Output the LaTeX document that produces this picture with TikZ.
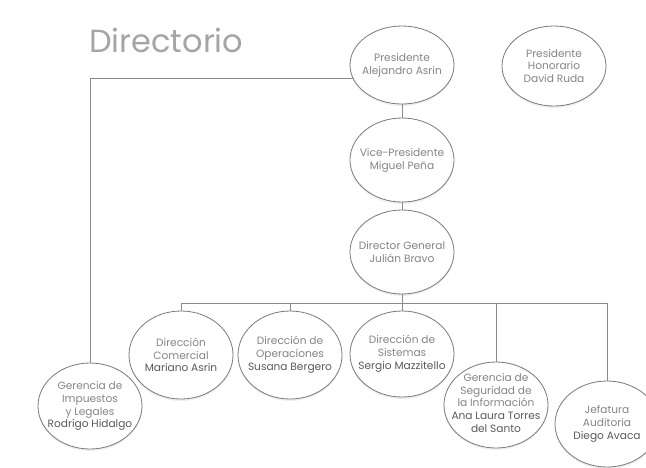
\documentclass[tikz,border=0pt]{standalone}
\usepackage{fontspec}
\setmainfont{Poppins}
\usetikzlibrary{shapes.geometric,shadows}
\definecolor{linec}{HTML}{8A8A8A}
\definecolor{edgec}{HTML}{7A7A7A}
\definecolor{txtc}{HTML}{858585}
\definecolor{namec}{HTML}{5A5A5A}
\definecolor{titlec}{HTML}{A5A5A5}
\tikzset{
  oval/.style={ellipse, draw=edgec, line width=0.8pt, fill=white, inner sep=0pt,
    minimum width=104pt, minimum height=84pt,
    drop shadow={opacity=0.12, shadow xshift=0pt, shadow yshift=-2pt}},
  txt/.style={font=\fontsize{10.6}{12.8}\selectfont, text=txtc, align=center, inner sep=0pt},
  conn/.style={draw=linec, line width=0.9pt}
}
\newcommand{\nm}[1]{\textcolor{namec}{#1}}
\begin{document}
\begin{tikzpicture}[x=1pt,y=-1pt]
\useasboundingbox[fill=white] (0,0) rectangle (646,467);
% title
\node[anchor=base west, inner sep=0pt, text=titlec, font=\fontsize{32}{32}\selectfont] (title) at (89,52) {Directorio};
% nodes
\node[oval, minimum height=78pt] (pres) at (402,65) {};
\node[oval, minimum height=80pt] (hon) at (554,66) {};
\node[oval] (vice) at (402,160) {};
\node[oval] (dg) at (402,252) {};
\node[oval, minimum height=86pt] (imp) at (90,406) {};
\node[oval, minimum height=88pt] (com) at (181,355) {};
\node[oval, minimum height=88pt] (ope) at (290,355) {};
\node[oval, minimum height=86pt] (sis) at (402,354) {};
\node[oval, minimum height=86pt] (seg) at (496,405) {};
\node[oval, minimum height=86pt] (jef) at (607,424) {};
% texts
\node[txt] (tpres) at (pres.center) {Presidente\\Alejandro Asrin};
\node[txt] (thon) at (hon.center) {Presidente\\Honorario\\David Ruda};
\node[txt] (tvice) at (vice.center) {Vice-Presidente\\Miguel Peña};
\node[txt] (tdg) at (dg.center) {Director General\\Julián Bravo};
\node[txt] (timp) at (imp.center) {Gerencia de\\Impuestos\\y Legales\\\nm{Rodrigo Hidalgo}};
\node[txt] (tcom) at (com.center) {Dirección\\Comercial\\\nm{Mariano Asrin}};
\node[txt] (tope) at (ope.center) {Dirección de\\Operaciones\\\nm{Susana Bergero}};
\node[txt] (tsis) at (sis.center) {Dirección de\\Sistemas\\\nm{Sergio Mazzitello}};
\node[txt] (tseg) at ([yshift=2pt]seg.center) {Gerencia de\\Seguridad de\\la Información\\\nm{Ana Laura Torres}\\\nm{del Santo}};
\node[txt] (tjef) at (jef.center) {Jefatura\\Auditoria\\\nm{Diego Avaca}};
% connectors
\coordinate (busL) at (181,303);
\coordinate (busR) at (607,303);
\draw[conn] (pres) -- (vice);
\draw[conn] (vice) -- (dg);
\draw[conn] (dg.south) -- (dg.south |- busL);
\draw[conn] (busL) -- (busR);
\draw[conn] (com.north |- busL) -- (com.north);
\draw[conn] (ope.north |- busL) -- (ope.north);
\draw[conn] (sis.north |- busL) -- (sis.north);
\draw[conn] (seg.north |- busL) -- (seg.north);
\draw[conn] (jef.north |- busL) -- (jef.north);
\draw[conn] (imp.north) |- (pres.195);
\end{tikzpicture}
\end{document}
